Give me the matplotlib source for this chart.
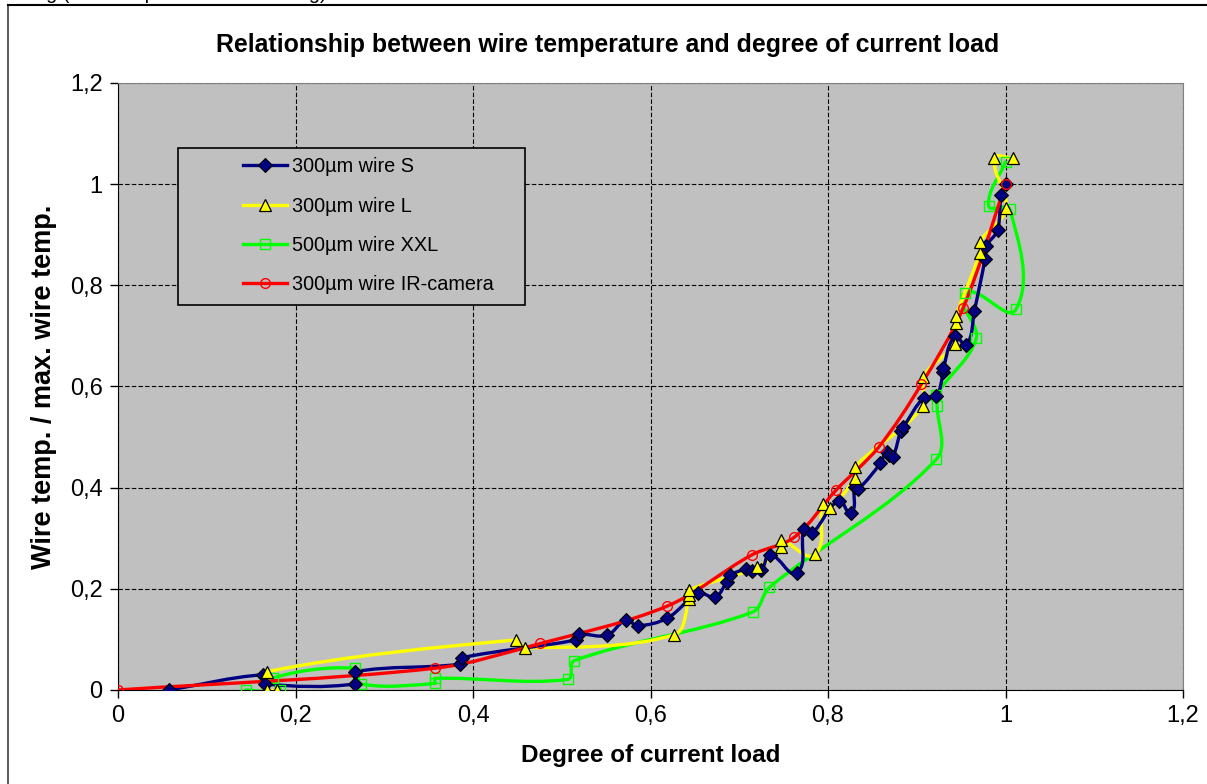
import numpy as np
import matplotlib
matplotlib.use("Agg")
import matplotlib.pyplot as plt
from matplotlib.path import Path
from matplotlib.patches import PathPatch, Rectangle
from matplotlib.lines import Line2D
from matplotlib.ticker import FuncFormatter, MultipleLocator

plt.rcParams['font.family'] = ['Liberation Sans', 'DejaVu Sans']

# --- data ---
s_x = [0.0575, 0.163, 0.166, 0.267, 0.267, 0.385, 0.388, 0.516, 0.519, 0.551,
       0.572, 0.586, 0.619, 0.654, 0.673, 0.686, 0.690, 0.708, 0.714, 0.725,
       0.735, 0.765, 0.773, 0.782, 0.812, 0.826, 0.830, 0.834, 0.859, 0.866,
       0.869, 0.873, 0.882, 0.885, 0.908, 0.922, 0.930, 0.930, 0.943, 0.956,
       0.965, 0.977, 0.978, 0.991, 0.995, 1.000]
s_y = [0.000, 0.030, 0.012, 0.012, 0.036, 0.051, 0.064, 0.099, 0.110, 0.108,
       0.138, 0.127, 0.142, 0.191, 0.184, 0.214, 0.227, 0.239, 0.236, 0.237,
       0.267, 0.232, 0.318, 0.310, 0.374, 0.350, 0.402, 0.397, 0.448, 0.471,
       0.464, 0.460, 0.512, 0.520, 0.578, 0.581, 0.629, 0.636, 0.699, 0.682,
       0.750, 0.853, 0.877, 0.909, 0.978, 1.000]

l_x = [0.1795, 0.1675, 0.1675, 0.4485, 0.459, 0.6265, 0.6437, 0.6437, 0.6437,
       0.7195, 0.7476, 0.7476, 0.7853, 0.794, 0.8023, 0.830, 0.830, 0.9074,
       0.9074, 0.943, 0.944, 0.944, 0.971, 0.971, 1.0005, 0.9876, 1.0088]
l_y = [0.000, 0.000, 0.036, 0.099, 0.083, 0.109, 0.180, 0.188, 0.198,
       0.2425, 0.282, 0.296, 0.268, 0.368, 0.359, 0.420, 0.441, 0.561,
       0.619, 0.685, 0.725, 0.739, 0.863, 0.886, 0.952, 1.051, 1.051]

xxl_x = [0.144, 0.182, 0.175, 0.267, 0.274, 0.357, 0.357, 0.507, 0.514, 0.715,
         0.734, 0.922, 0.923, 0.922, 0.967, 0.954, 1.012, 1.005, 0.981, 1.000]
xxl_y = [0.000, 0.000, 0.024, 0.043, 0.012, 0.013, 0.023, 0.021, 0.058, 0.154,
         0.203, 0.456, 0.561, 0.583, 0.695, 0.784, 0.753, 0.950, 0.957, 1.044]

ir_x = [0.0, 0.357, 0.476, 0.619, 0.714, 0.762, 0.809, 0.857, 0.905, 0.9525, 1.0]
ir_y = [0.0, 0.043, 0.092, 0.166, 0.267, 0.302, 0.395, 0.480, 0.604, 0.756, 1.0]

labels = ["300µm wire S", "300µm wire L", "500µm wire XXL", "300µm wire IR-camera"]
colors = ["#000080", "#FFFF00", "#00FF00", "#FF0000"]

XS, YS = 1065 / 1.2, 607 / 1.2   # data units -> pixels, used for the smoothing


def smooth_path(xs, ys):
    # smoothed line like the spreadsheet one: bezier, tangent from neighbours,
    # control length a third of the segment (no overshoot on short steps)
    pts = np.column_stack([np.array(xs) * XS, np.array(ys) * YS])
    n = len(pts)
    tang = np.zeros_like(pts)
    for i in range(n):
        d = pts[min(i + 1, n - 1)] - pts[max(i - 1, 0)]
        L = np.hypot(*d)
        if L > 0:
            tang[i] = d / L
    verts = [pts[0]]
    codes = [Path.MOVETO]
    for i in range(n - 1):
        seg = np.hypot(*(pts[i + 1] - pts[i])) / 3
        verts += [pts[i] + tang[i] * seg, pts[i + 1] - tang[i + 1] * seg, pts[i + 1]]
        codes += [Path.CURVE4] * 3
    verts = np.array(verts) / [XS, YS]
    return Path(verts, codes)


fig = plt.figure(figsize=(12.07, 7.84), dpi=100)
ax = fig.add_axes([118 / 1207, 94 / 784, 1065 / 1207, 607 / 784])
ax.set_facecolor("#C0C0C0")

series = [(s_x, s_y, dict(marker="D", ms=7.2, mfc="#000080", mec="black", mew=0.8)),
          (l_x, l_y, dict(marker="^", ms=8.3, mfc="#FFFF00", mec="black", mew=0.9)),
          (xxl_x, xxl_y, dict(marker="s", ms=7.5, mfc="none", mec="#00FF00", mew=1.0)),
          (ir_x, ir_y, dict(marker="o", ms=7, mfc="none", mec="#FF0000", mew=1.0))]

z_line = [4, 3, 2, 5]
for (xs, ys, mk), c, z in zip(series, colors, z_line):
    ax.add_patch(PathPatch(smooth_path(xs, ys), fill=False, edgecolor=c, lw=2.4,
                           zorder=z, capstyle="round", joinstyle="round"))
for (xs, ys, mk), z in zip(series, [7, 8, 6, 9]):
    ax.plot(xs, ys, linestyle="none", zorder=z, **mk)

ax.set_xlim(0, 1.2)
ax.set_ylim(0, 1.2)
ax.xaxis.set_major_locator(MultipleLocator(0.2))
ax.yaxis.set_major_locator(MultipleLocator(0.2))
fmt = FuncFormatter(lambda v, p: ("%g" % round(v, 1)).replace(".", ","))
ax.xaxis.set_major_formatter(fmt)
ax.yaxis.set_major_formatter(fmt)
ax.tick_params(direction="out", length=6, width=1, labelsize=17, pad=5)
ax.grid(True, color="black", linestyle=(0, (4, 2)), lw=0.8)
ax.set_axisbelow(True)
for side in ["top", "right"]:
    ax.spines[side].set_color("#808080")
for side in ["left", "bottom"]:
    ax.spines[side].set_color("black")

ax.set_title("Relationship between wire temperature and degree of current load",
             fontsize=17.9, fontweight="bold", pad=22, x=(608 - 118) / 1065)
ax.set_xlabel("Degree of current load", fontsize=17.5, fontweight="bold", labelpad=12)
ax.set_ylabel("Wire temp. / max. wire temp.", fontsize=19.5, fontweight="bold", labelpad=9)

# legend frame drawn separately, entries without frame
ax.add_patch(Rectangle((0.0563, 0.634), 0.3258, 0.259, transform=ax.transAxes,
                       facecolor="#C0C0C0", edgecolor="black", lw=1.2, zorder=10))
handles = [Line2D([], [], color=c, lw=2.4, **mk) for (xs, ys, mk), c in zip(series, colors)]
leg = ax.legend(handles, labels, loc="upper left", bbox_to_anchor=(0.1174, 0.878),
                frameon=False, fontsize=14.3, handlelength=2.2, handletextpad=0.25,
                labelspacing=1.03, borderpad=0, borderaxespad=0)
leg.set_zorder(11)

# chart area border and the clipped text above it
fig.add_artist(Line2D([8 / 1207, 8 / 1207], [0, 779 / 784], color="#404040", lw=1.2))
fig.add_artist(Line2D([8 / 1207, 1], [779 / 784, 779 / 784], color="black", lw=1.5))
fig.text(35 / 1207, 1 + 1 / 784, "ng (wire temperature vs. loading)", fontsize=14.3,
         va="baseline", ha="left")

fig.savefig("out.png", dpi=100)
